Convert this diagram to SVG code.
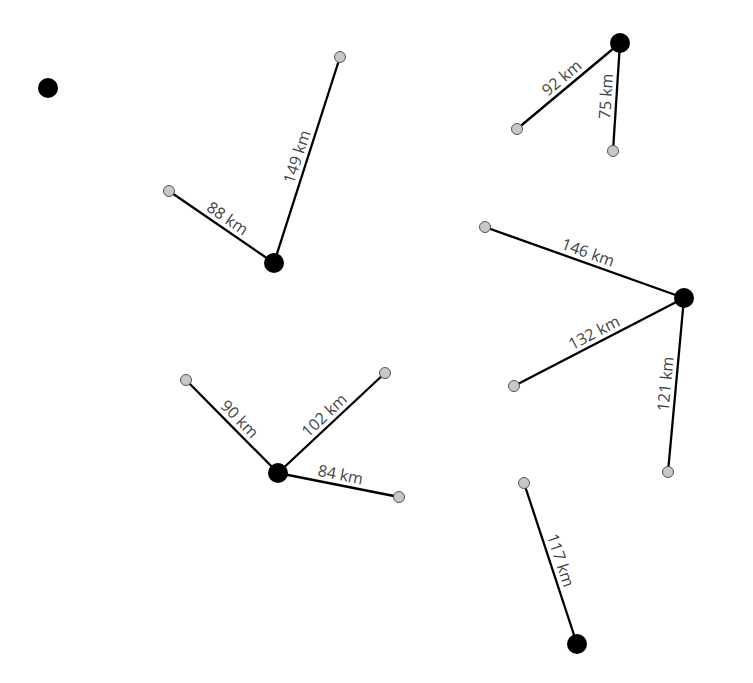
<svg xmlns="http://www.w3.org/2000/svg" width="753" height="683" viewBox="0 0 753 683">
<style>
.e line{stroke:#000;stroke-width:2.3}
.e text{font-family:"Open Sans","Noto Sans",sans-serif;font-size:16px;fill:#444;text-anchor:middle}
.hub{fill:#000}
.leaf{fill:#c8c8c8;stroke:#555;stroke-width:1}
</style>
<rect width="753" height="683" fill="#fff"/>
<g id="connectors" class="e">
<line x1="274" y1="263" x2="340" y2="57"/>
<text transform="translate(307,160) rotate(-72)" dy="-5">149 km</text>
<line x1="169" y1="191" x2="274" y2="263"/>
<text transform="translate(221.5,227) rotate(34.4)" dy="-5">88 km</text>
<line x1="517" y1="129" x2="620" y2="43"/>
<text transform="translate(568.5,86) rotate(-39.9)" dy="-5">92 km</text>
<line x1="613" y1="151" x2="620" y2="43"/>
<text transform="translate(616.5,97) rotate(-86.3)" dy="-5">75 km</text>
<line x1="485" y1="227" x2="684" y2="298"/>
<text transform="translate(584.5,262.5) rotate(19.6)" dy="-5">146 km</text>
<line x1="514" y1="386" x2="684" y2="298"/>
<text transform="translate(599,342) rotate(-27.4)" dy="-5">132 km</text>
<line x1="668" y1="472" x2="684" y2="298"/>
<text transform="translate(676,385) rotate(-84.7)" dy="-5">121 km</text>
<line x1="186" y1="380" x2="278" y2="473"/>
<text transform="translate(232,426.5) rotate(45.3)" dy="-5">90 km</text>
<line x1="278" y1="473" x2="385" y2="373"/>
<text transform="translate(331.5,423) rotate(-43)" dy="-5">102 km</text>
<line x1="278" y1="473" x2="399" y2="497"/>
<text transform="translate(338.5,485) rotate(11.2)" dy="-5">84 km</text>
<line x1="524" y1="483" x2="577" y2="644"/>
<text transform="translate(550.5,563.5) rotate(71.8)" dy="-5">117 km</text>
</g>
<g id="n0"><circle class="hub" cx="48" cy="88" r="10"/></g>
<g id="n1"><circle class="hub" cx="274" cy="263" r="10"/></g>
<g id="n2"><circle class="leaf" cx="340" cy="57" r="5.5"/></g>
<g id="n3"><circle class="leaf" cx="169" cy="191" r="5.5"/></g>
<g id="n4"><circle class="hub" cx="620" cy="43" r="10"/></g>
<g id="n5"><circle class="leaf" cx="517" cy="129" r="5.5"/></g>
<g id="n6"><circle class="leaf" cx="613" cy="151" r="5.5"/></g>
<g id="n7"><circle class="hub" cx="684" cy="298" r="10"/></g>
<g id="n8"><circle class="leaf" cx="485" cy="227" r="5.5"/></g>
<g id="n9"><circle class="leaf" cx="514" cy="386" r="5.5"/></g>
<g id="n10"><circle class="leaf" cx="668" cy="472" r="5.5"/></g>
<g id="n11"><circle class="hub" cx="278" cy="473" r="10"/></g>
<g id="n12"><circle class="leaf" cx="186" cy="380" r="5.5"/></g>
<g id="n13"><circle class="leaf" cx="385" cy="373" r="5.5"/></g>
<g id="n14"><circle class="leaf" cx="399" cy="497" r="5.5"/></g>
<g id="n15"><circle class="hub" cx="577" cy="644" r="10"/></g>
<g id="n16"><circle class="leaf" cx="524" cy="483" r="5.5"/></g>
</svg>
